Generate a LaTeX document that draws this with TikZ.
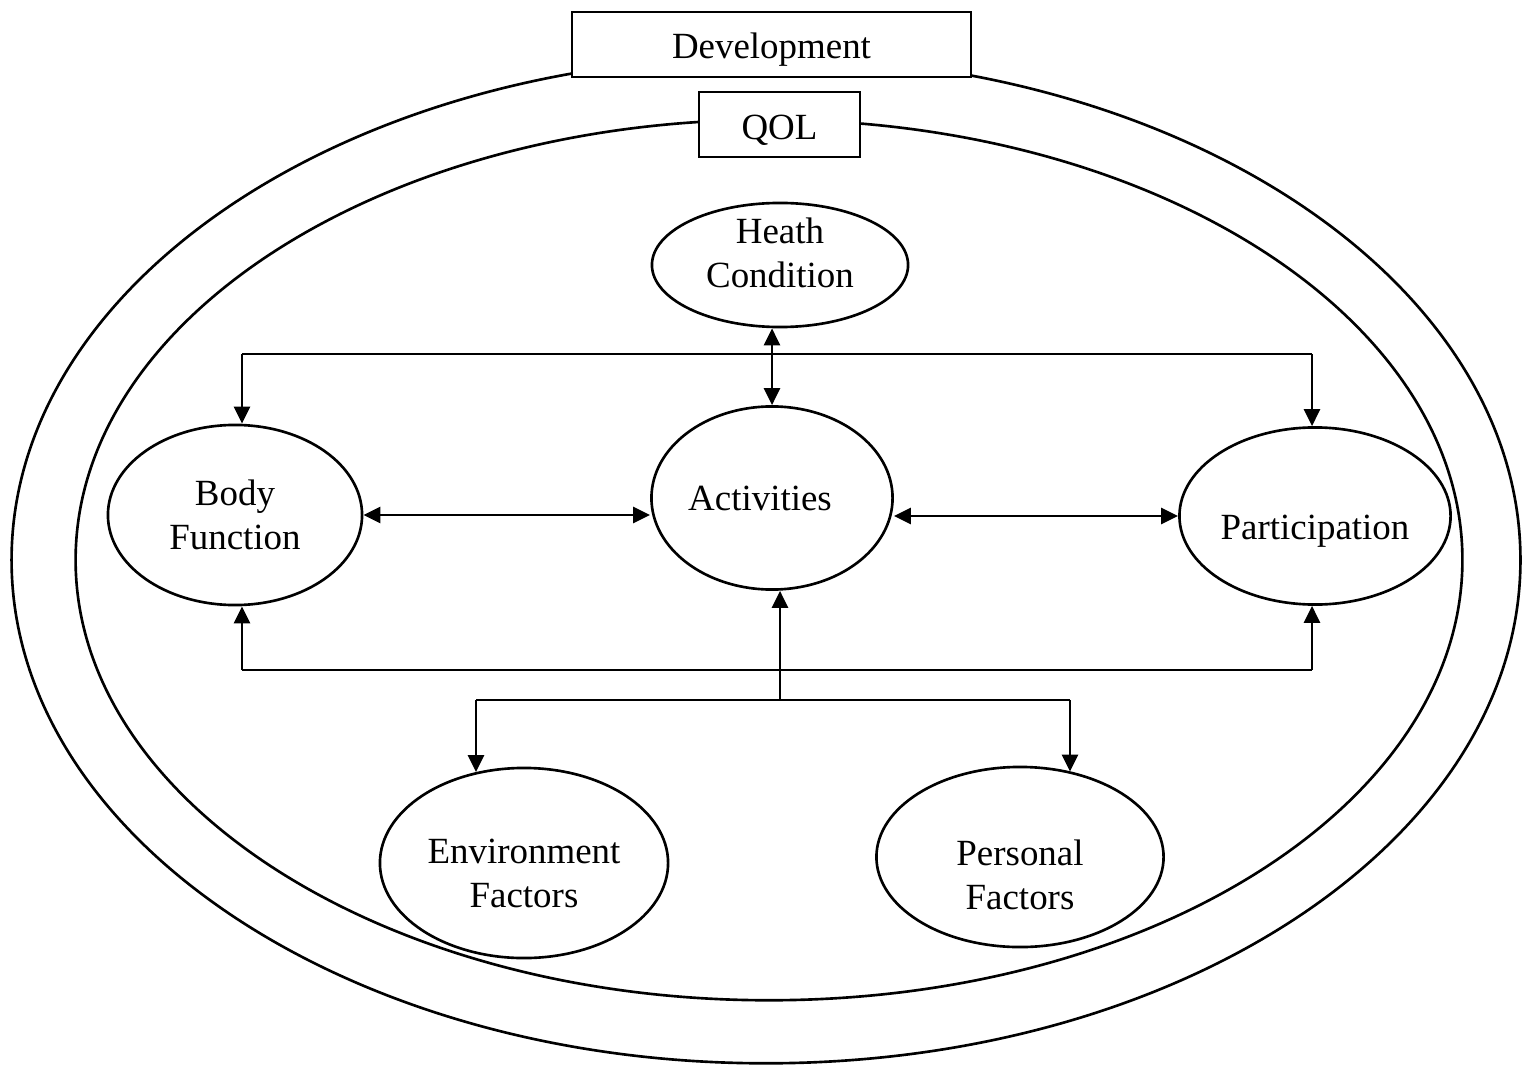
\documentclass[tikz,border=0pt]{standalone}
\usepackage{fontspec}
\setmainfont{Liberation Serif}
\usetikzlibrary{shapes.geometric,arrows.meta}

\begin{document}
\begin{tikzpicture}[x=0.01cm, y=-0.01cm, line width=0.75pt,
	every node/.style={font=\fontsize{10.5}{12.5}\selectfont, align=center},
	every label/.style={inner sep=0pt},
	oval/.style={draw, ellipse, inner sep=0pt},
	tag/.style={draw, fill=white, minimum height=0.65cm},
	arr/.style={-{Triangle[length=1.7mm,width=1.6mm]}},
	dbl/.style={{Triangle[length=1.7mm,width=1.6mm]}-{Triangle[length=1.7mm,width=1.6mm]}}]
			\useasboundingbox (0,0) rectangle (1522,1064);
			% rings
			\draw (766,560) ellipse [x radius=7.54cm, y radius=5.03cm];
			\draw (769,560) ellipse [x radius=6.93cm, y radius=4.40cm];
			\node[tag, minimum width=3.99cm, label={[yshift=-0.05cm]center:Development}] (dev) at (771.5,44.5) {};
			\node[tag, minimum width=1.61cm, label={[yshift=-0.06cm]center:QOL}] (qol) at (779.5,124.5) {};
			% components
			\node[oval, minimum width=2.56cm, minimum height=1.24cm, label={[yshift=0.12cm]center:{Heath\\Condition}}] (heath) at (780,265) {};
			\node[oval, minimum width=2.54cm, minimum height=1.80cm, label={center:{Body\\Function}}] (body) at (235,515) {};
			\node[oval, minimum width=2.41cm, minimum height=1.83cm, label={[xshift=-0.12cm]center:Activities}] (act) at (772,498) {};
			\node[oval, minimum width=2.71cm, minimum height=1.77cm, label={[yshift=-0.15cm]center:Participation}] (part) at (1315,516) {};
			\node[oval, minimum width=2.88cm, minimum height=1.90cm, label={[yshift=-0.10cm]center:{Environment\\Factors}}] (env) at (524,863) {};
			\node[oval, minimum width=2.87cm, minimum height=1.80cm, label={[yshift=-0.18cm]center:{Personal\\Factors}}] (pers) at (1020,857) {};
			% upper branch
			\coordinate (hl) at (242,354);
			\coordinate (hr) at (1312,354);
			\draw (hl) -- (hr);
			\draw[arr] (hl) -- (hl |- body.north);
			\draw[arr] (hr) -- (hr |- part.north);
			\draw[dbl] (heath.south -| act.north) -- (act.north);
			% middle row
			\draw[dbl] (body.east) -- (body.east -| act.west);
			\draw[dbl] (act.east |- part.west) -- (part.west);
			% lower branch
			\coordinate (ll) at (242,670);
			\coordinate (lr) at (1312,670);
			\draw (ll) -- (lr);
			\draw[arr] (ll) -- (ll |- body.south);
			\draw[arr] (lr) -- (lr |- part.south);
			\coordinate (fork) at (780,700);
			\draw[arr] (fork) -- (fork |- act.south);
			\coordinate (fl) at (476,700);
			\coordinate (fr) at (1070,700);
			\draw (fl) -- (fr);
			\draw[arr] (fl) -- (fl |- env.118);
			\draw[arr] (fr) -- (fr |- pers.59);
		\end{tikzpicture}
\end{document}
